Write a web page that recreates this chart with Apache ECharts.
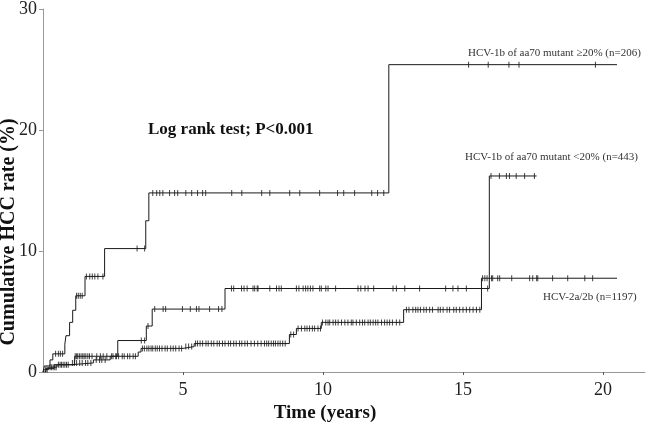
<!DOCTYPE html>
<html>
<head>
<meta charset="utf-8">
<script src="https://cdn.jsdelivr.net/npm/echarts@6/dist/echarts.min.js"></script>
<style>
  html, body { margin: 0; padding: 0; background: #fff; }
  #chart { width: 650px; height: 426px; }
</style>
</head>
<body>
<div id="chart"></div>
<script>
// step curves: time (years) and cumulative HCC rate (%) from that time on
var times1 = [0, 0.05, 0.25, 0.35, 0.78, 0.82, 0.95, 1.06, 1.17, 1.5, 2.2, 3.67, 3.78, 12.35, 20.5];
var vals1  = [0, 0.5, 1.0, 1.5, 2.3, 3.0, 4.1, 5.1, 6.3, 7.9, 10.2, 12.5, 14.8, 25.4, 25.4];

var times2 = [0, 0.1, 0.4, 1.13, 2.67, 3.69, 3.9, 6.5, 15.94, 17.63];
var vals2  = [0, 0.3, 0.6, 1.3, 2.6, 3.8, 5.2, 6.9, 16.2, 16.2];

var times3 = [0, 0.05, 0.2, 0.5, 1.0, 1.8, 2.4, 3.4, 3.5, 5.0, 5.4, 8.8, 9.05, 9.94, 12.88, 15.66, 20.5];
var vals3  = [0, 0.2, 0.4, 0.6, 0.75, 1.0, 1.3, 1.65, 1.95, 2.1, 2.35, 3.1, 3.6, 4.1, 5.15, 7.75, 7.75];

// censored observations (years)
var cens1 = [0.45, 0.55, 0.62, 0.7, 1.2, 1.26, 1.33, 1.4, 1.55, 1.67, 1.76, 1.85, 1.96, 2.14, 3.36, 3.63,
  3.92, 4.06, 4.17, 4.28, 4.52, 4.7, 4.81, 5.1, 5.31, 5.52, 5.7, 5.81, 6.74, 7.1, 7.81, 8.1, 8.81, 9.17,
  9.88, 10.52, 10.74, 11.13, 11.74, 11.95, 12.17, 15.2, 15.9, 16.64, 17.0, 19.73];
var cens2 = [1.15, 1.2, 1.24, 1.3, 1.36, 1.42, 1.47, 1.53, 1.6, 1.66, 1.75, 1.92, 2.05, 2.15, 2.28, 2.45, 2.6,
  3.51, 3.63, 3.75, 3.99, 4.29, 4.38, 4.98, 5.26, 5.48, 5.57, 5.95, 6.27, 6.39,
  6.73, 6.81, 7.09, 7.18, 7.29, 7.5, 7.68, 7.56, 7.65, 8.1, 8.34, 8.43, 8.51, 9.05, 9.14, 9.29, 9.38, 9.46,
  9.55, 9.64, 9.88, 9.94, 10.1, 10.18, 10.45, 11.25, 11.35, 11.5, 11.61, 11.81, 12.5, 12.62, 12.92, 13.45,
  14.38, 14.64, 14.82, 15.12, 15.88, 16.0, 16.3, 16.55, 16.66, 16.9, 17.2, 17.55];
var cens3 = [0.1, 0.15, 0.25, 0.3, 0.36, 0.42, 0.47, 0.55, 0.61, 0.66, 0.72, 0.78, 0.84, 0.9, 1.05, 1.12, 1.2,
  1.31, 1.4, 1.52, 1.6, 1.71, 1.9, 2.02, 2.1, 2.22, 2.5, 2.62, 2.7, 2.83, 2.9, 3.02, 3.1, 3.22, 3.3,
  3.55, 3.62, 3.71, 3.78, 3.86, 3.92, 4.01, 4.08, 4.16, 4.25, 4.36, 4.44, 4.56, 4.65, 4.74, 4.86, 4.95,
  5.1, 5.2, 5.31, 5.45, 5.52, 5.61, 5.7, 5.82, 5.9, 6.01, 6.1, 6.22, 6.3, 6.41, 6.5, 6.62, 6.7, 6.81,
  6.9, 7.02, 7.1, 7.21, 7.3, 7.43, 7.55, 7.67, 7.79, 7.91, 7.99, 8.06, 8.15, 8.23, 8.3, 8.39, 8.47, 8.56,
  8.65, 8.85, 8.95, 9.11, 9.23, 9.35, 9.43, 9.52, 9.62, 9.7, 9.82, 9.91, 9.98, 10.1, 10.18, 10.24, 10.36,
  10.45, 10.54, 10.66, 10.78, 10.89, 11.01, 11.07, 11.19, 11.31, 11.41, 11.49, 11.61, 11.69, 11.79,
  11.88, 11.96, 12.09, 12.2, 12.29, 12.38, 12.48, 12.62, 12.74, 12.98, 13.07, 13.21, 13.31, 13.39,
  13.48, 13.6, 13.69, 13.81, 13.91, 14.11, 14.19, 14.29, 14.43, 14.52, 14.67, 14.76, 14.88, 15.0, 15.12,
  15.24, 15.36, 15.48, 15.6, 15.7, 15.78, 15.86, 16.02, 16.06, 16.24, 16.31, 16.74, 17.38, 17.49, 17.63,
  17.67, 18.2, 18.74, 19.35, 19.63];

var xTicks = [5, 10, 15, 20];
var yTicks = [0, 10, 20, 30];

var labels = [
  'HCV-1b of aa70 mutant \u226520% (n=206)',
  'HCV-1b of aa70 mutant <20% (n=443)',
  'HCV-2a/2b (n=1197)'
];

function pairs(ts, vs) {
  var out = [];
  for (var i = 0; i < ts.length; i++) out.push([ts[i], vs[i]]);
  return out;
}
function stepAt(ts, vs, t) {
  var v = vs[0];
  for (var i = 0; i < ts.length; i++) { if (ts[i] <= t) v = vs[i]; }
  return v;
}
function censor(cs, ts, vs) {
  return cs.map(function (t) { return [t, stepAt(ts, vs, t)]; });
}

var serif = '"Liberation Serif", "DejaVu Serif", serif';

function lineSeries(ts, vs) {
  return {
    type: 'line', step: 'end', showSymbol: false, silent: true,
    data: pairs(ts, vs),
    lineStyle: { color: '#1a1a1a', width: 1 }
  };
}
function tickSeries(cs, ts, vs) {
  return {
    type: 'scatter', silent: true, symbol: 'rect', symbolSize: [1, 6],
    data: censor(cs, ts, vs),
    itemStyle: { color: '#111' }
  };
}

var chart = echarts.init(document.getElementById('chart'));
chart.setOption({
  animation: false,
  backgroundColor: '#fff',
  grid: { left: 43, right: 5, top: 6, bottom: 54 },
  xAxis: {
    type: 'value', min: 0, max: 21.5,
    axisLine: { lineStyle: { color: '#999', width: 1 } },
    axisTick: { length: 3, lineStyle: { color: '#555' }, customValues: xTicks },
    axisLabel: { customValues: xTicks, fontFamily: serif, fontSize: 18, color: '#222', margin: 9 },
    splitLine: { show: false }
  },
  yAxis: {
    type: 'value', min: 0, max: 30, interval: 10,
    axisLine: { show: true, lineStyle: { color: '#999', width: 1 } },
    axisTick: { show: true, length: 4, lineStyle: { color: '#999' }, customValues: yTicks },
    axisLabel: { customValues: yTicks, fontFamily: serif, fontSize: 18, color: '#222', margin: 6 },
    splitLine: { show: false }
  },
  graphic: [
    { type: 'text', x: 9, y: 232, rotation: Math.PI / 2,
      style: { text: 'Cumulative HCC rate (%)', fontFamily: serif, fontWeight: 'bold', fontSize: 20,
        fill: '#111', align: 'center', verticalAlign: 'middle' } },
    { type: 'text', x: 325, y: 413,
      style: { text: 'Time (years)', fontFamily: serif, fontWeight: 'bold', fontSize: 19,
        fill: '#111', align: 'center', verticalAlign: 'middle' } },
    { type: 'text', x: 148, y: 130,
      style: { text: 'Log rank test; P<0.001', fontFamily: serif, fontWeight: 'bold', fontSize: 17,
        fill: '#111', align: 'left', verticalAlign: 'middle' } },
    { type: 'text', x: 468, y: 53,
      style: { text: labels[0], fontFamily: serif, fontSize: 11, fill: '#333', align: 'left', verticalAlign: 'middle' } },
    { type: 'text', x: 465, y: 157,
      style: { text: labels[1], fontFamily: serif, fontSize: 11, fill: '#333', align: 'left', verticalAlign: 'middle' } },
    { type: 'text', x: 543, y: 297,
      style: { text: labels[2], fontFamily: serif, fontSize: 11, fill: '#333', align: 'left', verticalAlign: 'middle' } }
  ],
  series: [
    lineSeries(times3, vals3),
    lineSeries(times2, vals2),
    lineSeries(times1, vals1),
    tickSeries(cens3, times3, vals3),
    tickSeries(cens2, times2, vals2),
    tickSeries(cens1, times1, vals1)
  ]
});
</script>
</body>
</html>
